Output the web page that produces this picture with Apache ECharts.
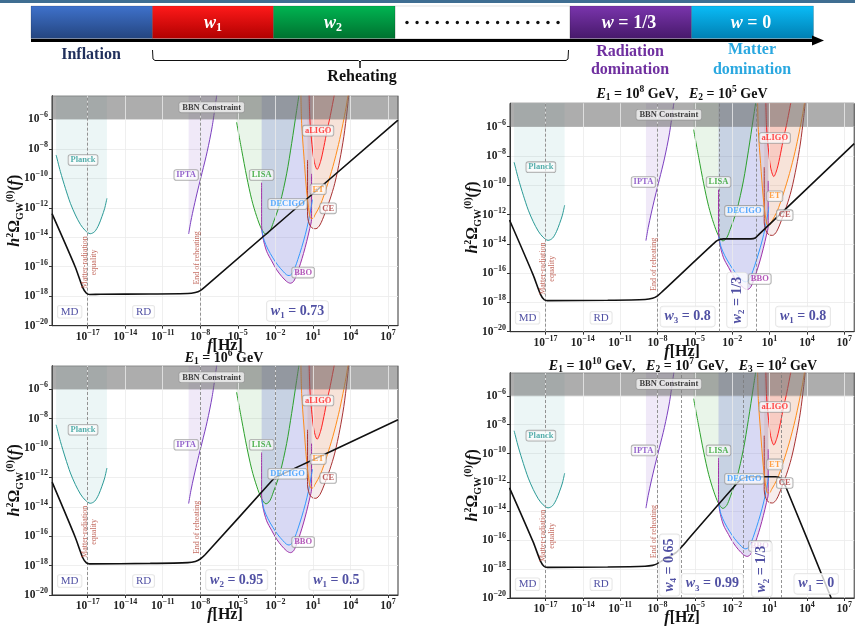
<!DOCTYPE html>
<html><head><meta charset="utf-8">
<script src="https://cdn.jsdelivr.net/npm/echarts@6/dist/echarts.min.js"></script>
<style>html,body{margin:0;padding:0;background:#fff}#c{width:855px;height:627px}</style>
</head><body><div id="c"></div>
<script>
// ---------- data (all values are log10 of f[Hz] and of h^2 Omega) ----------
const xTicks = [-17,-14,-11,-8,-5,-2,1,4,7];
const xRange = [-19.85, 7.8];
const yRange = [-20, -4.4];
const bbnLevel = -6;

const planckCurve = [[-19.52,-8.42],[-19.18,-9.55],[-18.78,-10.68],[-18.38,-11.7],[-17.98,-12.49],[-17.58,-13.13],[-17.19,-13.55],[-16.79,-13.76],[-16.44,-13.62],[-16.12,-13.17],[-15.86,-12.6],[-15.64,-12.04],[-15.46,-11.36]];
const iptaCurve = [[-8.93,-13.78],[-8.75,-12.9],[-8.5,-11.9],[-8.2,-10.8],[-7.85,-9.6],[-7.45,-8.2],[-7.05,-6.5],[-6.69,-4.4]];
const lisaCurve = [[-5.1,-6.2],[-4.69,-8.1],[-4.29,-9.9],[-3.89,-11.45],[-3.49,-12.6],[-3.1,-13.45],[-2.75,-13.8],[-2.45,-13.6],[-2.16,-13.0],[-1.63,-11.7],[-1.1,-9.7],[-0.7,-7.65],[-0.3,-5.4],[-0.12,-4.4]];
const bboCurve = [[-3.1,-10.3],[-3.1,-13.2],[-3.0,-14.0],[-2.7,-14.95],[-2.3,-15.6],[-1.9,-16.2],[-1.5,-16.65],[-1.1,-17.0],[-0.8,-17.12],[-0.55,-17.0],[-0.3,-16.55],[0.0,-15.8],[0.25,-15.1],[0.5,-14.3],[0.75,-13.4],[0.89,-12.8],[0.89,-9.7]];
const decigoCurve = [[-3.08,-13.5],[-2.9,-14.2],[-2.6,-14.8],[-2.2,-15.4],[-1.8,-15.9],[-1.4,-16.3],[-1.1,-16.55],[-0.9,-16.6],[-0.7,-16.5],[-0.45,-16.1],[-0.2,-15.5],[0.1,-14.7],[0.4,-13.8],[0.65,-12.9],[0.85,-12.0],[0.97,-11.45]];
const aligoCurve = [[0.7,-4.4],[0.76,-6.05],[0.89,-7.4],[1.08,-8.76],[1.34,-9.4],[1.61,-8.87],[1.88,-7.85],[2.14,-6.72],[2.35,-5.93],[2.7,-4.4]];
const etCurve = [[0.04,-4.4],[0.1,-6.3],[0.28,-8.5],[0.49,-10.8],[0.71,-12.35],[0.84,-12.72],[1.0,-12.72],[1.16,-12.49],[1.6,-11.8],[2.1,-10.6],[2.6,-9.2],[3.05,-7.7],[3.4,-6.3],[3.65,-5.2],[3.8,-4.4]];
const ceCurve = [[0.57,-8.76],[0.57,-12.5],[0.65,-12.95],[0.8,-13.25],[1.0,-13.4],[1.24,-13.42],[1.56,-13.17],[1.96,-12.38],[2.35,-11.47],[2.75,-10.34],[3.15,-8.76],[3.47,-7.18],[3.74,-5.37],[3.86,-4.4]];

const detectorNames = ['Planck','IPTA','LISA','BBO','DECIGO','CE','ET','aLIGO'];
const detectorCurves = [planckCurve, iptaCurve, lisaCurve, bboCurve, decigoCurve, ceCurve, etCurve, aligoCurve];

const curve1 = [[-19.85,-12.4],[-18,-16.0],[-17.4,-17.4],[-17.1,-17.8],[-16.85,-17.88],[-16,-17.87],[-12,-17.85],[-9,-17.82],[-8.4,-17.75],[-8.0,-17.62],[-7.6,-17.35],[7.8,-6.05]];
const curve2 = [[-19.89,-12.37],[-18,-16.1],[-17.4,-17.45],[-17.1,-17.82],[-16.85,-17.88],[-12,-17.85],[-9,-17.8],[-8.4,-17.72],[-8.0,-17.55],[-7.6,-17.25],[-3.3,-13.83],[-3.0,-13.7],[-2.7,-13.66],[-0.5,-13.66],[-0.15,-13.6],[0.15,-13.35],[7.8,-7.15]];
const curve3 = [[-19.84,-12.32],[-18,-16.05],[-17.4,-17.45],[-17.1,-17.82],[-16.85,-17.88],[-12,-17.85],[-9,-17.8],[-8.4,-17.72],[-8.0,-17.55],[-7.6,-17.25],[-2.3,-12.25],[-2.0,-12.0],[-1.7,-11.88],[7.8,-8.08]];
const curve4 = [[-19.89,-12.37],[-18,-16.1],[-17.4,-17.45],[-17.1,-17.82],[-16.85,-17.88],[-12,-17.85],[-9,-17.8],[-8.4,-17.74],[-8.0,-17.62],[-7.5,-17.35],[-6.5,-16.85],[-6.0,-16.4],[-5.5,-15.9],[-1.5,-11.95],[-1.1,-11.7],[-0.7,-11.6],[1.5,-11.6],[1.9,-11.72],[2.3,-12.3],[5.95,-20]];
const curves = [curve1, curve2, curve3, curve4];

const transitions = [[-17,-8],[-17,-8,-3.07,-0.07],[-17,-8,-2.04],[-17,-8,-6.06,-1.13,1.91]];

const wIndex = [['1'],['3','2','1'],['2','1'],['4','3','2','1']];
const wValue = [['0.73'],['0.8','1/3','0.8'],['0.95','0.5'],['0.65','0.99','1/3','0']];
const titleIdx = [[],['1','2'],['1'],['1','2','3']];
const titleExp = [[],['8','5'],['6'],['10','7','2']];
const eraNames = ['MD','RD'];
const lineNotes = ['Matter-radiation\nequality','End of reheating'];
const bbnText = 'BBN Constraint';

// ---------- annotation anchors and styles ----------
const detectorLabelPos = [[-17.37,-8.76],[-9.13,-9.78],[-3.1,-9.78],[0.22,-16.4],[-1.03,-11.75],[2.22,-12.04],[1.42,-10.75],[1.42,-6.77]];
const detectorColors = ['#2a9a96','#7b3fbf','#2ca02c','#a030a8','#3399ff','#a83232','#ff8c1a','#ff2020'];
const detectorFills = ['rgba(42,154,150,0.13)','rgba(123,63,191,0.16)','rgba(44,160,44,0.15)','rgba(100,80,200,0.28)','rgba(51,153,255,0.07)','rgba(168,50,50,0.12)','rgba(255,140,40,0.14)','rgba(255,50,50,0.18)'];
const eraPos = [[-18.44,-19.05],[-12.53,-19.05]];
const linePos = [[-16.88,-15.7],[-8.3,-15.4]];
const bbnPos = [-7.09,-5.19];
const wPos = [[[-0.23,-19.0]],[[-5.58,-18.97],[-1.61,-17.84],[3.69,-18.97]],[[-5.09,-18.98],[2.88,-18.98]],[[-7.04,-17.72],[-3.6,-19.02],[0.38,-18.0],[4.75,-19.02]]];
const wRot = [[0],[0,90,0],[0,0],[90,0,90,0]];
const grids = [
  {left:52, top:95.7, width:346, height:230},
  {left:510, top:103.3, width:346, height:228.4},
  {left:52, top:365.7, width:346, height:229.3},
  {left:510, top:372.7, width:346, height:229}
];
const titlePos = [null,[682,94],[224,358],[683,366]];

const FONT = '"Liberation Serif", "Times New Roman", serif';
const NAVY = '#24248c';

function pow10(v){ const r = Math.round(v); return '{b|10}{s|' + (r<0 ? '\u2212' + (-r) : r) + '}'; }
const tickRich = {
  b:{fontFamily:FONT, fontSize:11.5, fontWeight:'bold', color:'#222', lineHeight:16},
  s:{fontFamily:FONT, fontSize:8, fontWeight:'bold', color:'#222', lineHeight:9, verticalAlign:'top'}
};
const mathRich = {
  i:{fontFamily:FONT, fontStyle:'italic', fontWeight:'bold', fontSize:16, color:'#111', lineHeight:20},
  t:{fontFamily:FONT, fontWeight:'bold', fontSize:16, color:'#111', lineHeight:20},
  sup:{fontFamily:FONT, fontWeight:'bold', fontSize:10, color:'#111', lineHeight:10, verticalAlign:'top'},
  sub:{fontFamily:FONT, fontWeight:'bold', fontSize:10, color:'#111', lineHeight:10, verticalAlign:'bottom'}
};
const wRich = {
  w:{fontFamily:FONT, fontStyle:'italic', fontWeight:'bold', fontSize:14, color:NAVY, lineHeight:18},
  s:{fontFamily:FONT, fontWeight:'bold', fontSize:9, color:NAVY, lineHeight:9, verticalAlign:'bottom'},
  t:{fontFamily:FONT, fontWeight:'bold', fontSize:14, color:NAVY, lineHeight:18}
};

const xAxes = [], yAxes = [], series = [];
grids.forEach((g, k) => {
  xAxes.push({
    gridIndex:k, type:'value', min:xRange[0], max:xRange[1],
    axisLine:{show:true, onZero:false, lineStyle:{color:'#333', width:1}},
    axisTick:{show:true, customValues:xTicks, length:3, lineStyle:{color:'#333'}},
    axisLabel:{customValues:xTicks, formatter:pow10, rich:tickRich, margin:3},
    splitLine:{show:false},
    name:'{i|f}{t|[Hz]}', nameLocation:'middle', nameGap:10, nameMoveOverlap:false, nameTextStyle:{rich:mathRich}
  });
  yAxes.push({
    gridIndex:k, type:'value', min:yRange[0], max:yRange[1], interval:2,
    axisLine:{show:true, onZero:false, lineStyle:{color:'#333', width:1}},
    axisTick:{show:true, length:3, lineStyle:{color:'#333'}},
    axisLabel:{formatter:v => Math.abs(v - Math.round(v)) < 1e-6 ? pow10(v) : '', rich:tickRich, margin:4, showMaxLabel:false},
    splitLine:{show:true, lineStyle:{color:'#ebebeb', width:0.8}},
    name:'{i|h}{sup|2}{t|Ω}{sub|GW}{sup|(0)}{t|(}{i|f}{t|)}', nameLocation:'middle', nameRotate:90, nameGap:27, nameMoveOverlap:false,
    nameTextStyle:{rich:mathRich}
  });
  const base = {xAxisIndex:k, yAxisIndex:k, silent:true, animation:false};
  // vertical grid lines
  series.push(Object.assign({}, base, {type:'line', data:[[xRange[0], yRange[0]]], symbol:'none', lineStyle:{width:0}, z:1,
    markLine:{silent:true, symbol:['none','none'], label:{show:false}, lineStyle:{color:'#ebebeb', type:'solid', width:0.8}, data:xTicks.map(v => ({xAxis:v}))}}));
  // detector sensitivity regions
  detectorCurves.forEach((c, i) => {
    series.push(Object.assign({}, base, {type:'line', data:c, symbol:'none', smooth:0.3, z:2,
      lineStyle:{color:detectorColors[i], width:1}, areaStyle:{origin:'end', color:detectorFills[i]}}));
  });
  // BBN band
  series.push(Object.assign({}, base, {type:'line', data:[[xRange[0], bbnLevel],[xRange[1], bbnLevel]], symbol:'none', z:3,
    lineStyle:{width:0}, areaStyle:{origin:'end', color:'rgba(105,105,105,0.78)'}}));
  // transition dashed lines
  series.push(Object.assign({}, base, {type:'line', data:[[xRange[0], yRange[0]]], symbol:'none', lineStyle:{width:0}, z:4,
    markLine:{silent:true, symbol:['none','none'], label:{show:false}, lineStyle:{color:'#7a7a7a', type:[3,2], width:0.8}, data:transitions[k].map(v => ({xAxis:v}))}}));
  // GW spectrum
  series.push(Object.assign({}, base, {type:'line', data:curves[k], symbol:'none', smooth:0.25, z:5,
    lineStyle:{color:'#111', width:1.6}}));
  // detector labels
  const boxLabel = {show:true, position:'inside', fontFamily:FONT, fontWeight:'bold', fontSize:8.5,
    backgroundColor:'rgba(255,255,255,0.85)', borderColor:'#999', borderWidth:0.8, borderRadius:2, padding:[1,2,0,2]};
  series.push(Object.assign({}, base, {type:'scatter', symbolSize:0.1, itemStyle:{color:'transparent'}, z:6,
    label:Object.assign({}, boxLabel, {formatter:p => p.name}),
    data:detectorNames.map((n, i) => ({name:n, value:detectorLabelPos[i], label:{color:detectorColors[i]}}))
      .concat([{name:bbnText, value:bbnPos, label:{color:'#111', fontSize:8.5, padding:[1,3,0,3]}}])}));
  // notes along transition lines
  series.push(Object.assign({}, base, {type:'scatter', symbolSize:0.1, itemStyle:{color:'transparent'}, z:6,
    label:{show:true, position:'inside', rotate:90, fontFamily:FONT, fontSize:8, color:'#b5473a', lineHeight:9, formatter:p => p.name},
    data:lineNotes.map((n, i) => ({name:n, value:linePos[i]}))}));
  // era labels
  series.push(Object.assign({}, base, {type:'scatter', symbolSize:0.1, itemStyle:{color:'transparent'}, z:7,
    label:{show:true, position:'inside', fontFamily:FONT, fontSize:11, color:NAVY, backgroundColor:'rgba(255,255,255,0.9)',
      borderColor:'#ddd', borderWidth:0.8, borderRadius:2, padding:[1,3,0,3], formatter:p => p.name},
    data:eraNames.map((n, i) => ({name:n, value:eraPos[i]}))}));
  // equation of state labels
  series.push(Object.assign({}, base, {type:'scatter', symbolSize:0.1, itemStyle:{color:'transparent'}, z:8,
    label:{show:true, position:'inside', rich:wRich, backgroundColor:'rgba(255,255,255,0.95)', borderColor:'#ddd',
      borderWidth:0.8, borderRadius:3, padding:[1,4,1,4], formatter:p => p.name},
    data:wIndex[k].map((s, i) => ({name:'{w|w}{s|' + s + '}{t| = ' + wValue[k][i] + '}', value:wPos[k][i], label:{rotate:wRot[k][i]}}))}));
});

// ---------- titles ----------
const titleRich = {
  e:{fontFamily:FONT, fontStyle:'italic', fontWeight:'bold', fontSize:14, fill:'#111', lineHeight:18},
  t:{fontFamily:FONT, fontWeight:'bold', fontSize:14, fill:'#111', lineHeight:18},
  sub:{fontFamily:FONT, fontWeight:'bold', fontSize:9.5, fill:'#111', lineHeight:9, verticalAlign:'bottom'},
  sup:{fontFamily:FONT, fontWeight:'bold', fontSize:9.5, fill:'#111', lineHeight:9, verticalAlign:'top'}
};
const graphics = [];
titleIdx.forEach((arr, k) => {
  if (!arr.length) return;
  const txt = arr.map((s, i) => '{e|E}{sub|' + s + '}{t| = 10}{sup|' + titleExp[k][i] + '}{t| GeV}').join('{t|,   }');
  graphics.push({type:'text', x:titlePos[k][0], y:titlePos[k][1], z:50,
    style:{text:txt, rich:titleRich, align:'center', verticalAlign:'middle'}});
});

// ---------- timeline banner ----------
const BF = '"Liberation Serif", serif';
graphics.push({type:'rect', shape:{x:0, y:0, width:855, height:3}, style:{fill:'#3f6e92'}});
const boxes = [
  {x:31, w:121.5, c:['#3f72cc','#24457f']},
  {x:152.5, w:121, c:['#ff1a1a','#b00000']},
  {x:273.5, w:121.5, c:['#00b552','#00712f']},
  {x:570, w:121.5, c:['#7a35ad','#47196a']},
  {x:691.5, w:122, c:['#0abcf7','#007fb2']}
];
graphics.push({type:'rect', shape:{x:395, y:6, width:175, height:32.5}, style:{fill:'#fff', stroke:'#d0d0d0', lineWidth:0.6}});
boxes.forEach(b => graphics.push({type:'rect', shape:{x:b.x, y:6, width:b.w, height:32.5},
  style:{fill:new echarts.graphic.LinearGradient(0,0,0,1,[{offset:0,color:b.c[0]},{offset:1,color:b.c[1]}]), stroke:'rgba(0,0,0,0.25)', lineWidth:0.6}}));
for (let i = 0; i < 16; i++) graphics.push({type:'circle', shape:{cx:407 + i*10.07, cy:22.5, r:1.7}, style:{fill:'#111'}});
const boxRich = {
  w:{fontFamily:BF, fontStyle:'italic', fontWeight:'bold', fontSize:18, fill:'#fff', lineHeight:22},
  s:{fontFamily:BF, fontWeight:'bold', fontSize:12, fill:'#fff', lineHeight:12, verticalAlign:'bottom'},
  t:{fontFamily:BF, fontWeight:'bold', fontSize:18, fill:'#fff', lineHeight:22}
};
[[213,'{w|w}{s|1}'],[333,'{w|w}{s|2}'],[629,'{w|w}{t| = 1/3}'],[751,'{w|w}{t| = 0}']].forEach(d =>
  graphics.push({type:'text', x:d[0], y:23, style:{text:d[1], rich:boxRich, align:'center', verticalAlign:'middle'}}));
graphics.push({type:'rect', shape:{x:31, y:39, width:784, height:3}, style:{fill:'#000'}});
graphics.push({type:'polygon', shape:{points:[[812,35.5],[824,40.5],[812,45.5]]}, style:{fill:'#000'}});
graphics.push({type:'polyline', shape:{points:[[152.5,50],[153,59],[155,60.5],[358.5,60.5],[360,62],[360,68],[360,62],[361.5,60.5],[566,60.5],[568,59],[568.5,50]]}, style:{stroke:'#111', lineWidth:1, fill:null}});
const capt = [
  [91,55,'Inflation','#1f2f5c'],[362,77,'Reheating','#111'],
  [630,51.5,'Radiation','#7030a0'],[630,70,'domination','#7030a0'],
  [752,50,'Matter','#2aa8e0'],[752,70,'domination','#2aa8e0']
];
capt.forEach(c => graphics.push({type:'text', x:c[0], y:c[1], style:{text:c[2], fill:c[3], fontFamily:BF, fontWeight:'bold', fontSize:16, align:'center', verticalAlign:'middle'}}));

const chart = echarts.init(document.getElementById('c'), null, {renderer:'canvas', width:855, height:627});
chart.setOption({
  animation:false,
  backgroundColor:'#fff',
  grid:grids.map(g => Object.assign({show:true, borderColor:'#333', borderWidth:1, backgroundColor:'transparent'}, g)),
  xAxis:xAxes, yAxis:yAxes, series:series, graphic:graphics
});
</script></body></html>
